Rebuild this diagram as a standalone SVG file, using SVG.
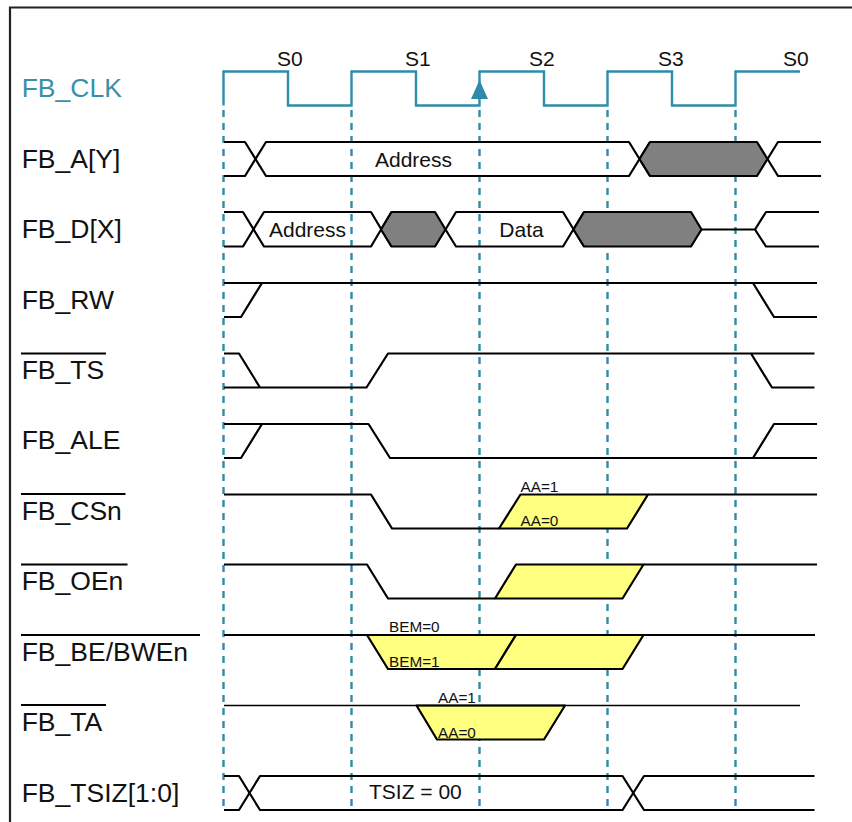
<svg xmlns="http://www.w3.org/2000/svg" width="852" height="822" viewBox="0 0 852 822">
<style>
text{font-family:"Liberation Sans",Arial,sans-serif;fill:#111}
.lb{font-size:26.500px}
.st{font-size:21px}
.v{font-size:21px}
.sm{font-size:15.300px}
.w{fill:none;stroke:#000;stroke-width:2.200;stroke-linejoin:round}
.thin{stroke-width:1.700}
.g{fill:#808080;stroke:#000;stroke-width:2.200;stroke-linejoin:round}
.y{fill:#ffff80;stroke:#000;stroke-width:2.200;stroke-linejoin:round}
.ov{stroke:#000;stroke-width:2.200}
.guide{stroke:#2e8cab;stroke-width:2.400;stroke-dasharray:7 6;fill:none}
</style>
<rect width="852" height="822" fill="#fff"/>
<path d="M10 822V7.500H852" fill="none" stroke="#222" stroke-width="2.200"/>
<g id="connectors">
<path class="guide" d="M223.500 110V810"/>
<path class="guide" d="M351.500 110V810"/>
<path class="guide" d="M479.500 110V810"/>
<path class="guide" d="M607.500 110V810"/>
<path class="guide" d="M735.500 110V810"/>
</g>
<g id="fb-clk">
<text class="lb" x="21.700" y="97" style="fill:#3a8fa8">FB_CLK</text>
<path d="M223.500 105.500V71.500H288V105.500H351.500V71.500H416V105.500H479.500V71.500H544V105.500H607.500V71.500H672V105.500H735.500V71.500H800" fill="none" stroke="#2e8cab" stroke-width="2.400"/>
<path d="M479.500 80L488 99H471Z" fill="#2e8cab"/>
<text class="st" x="277" y="66">S0</text>
<text class="st" x="405" y="66">S1</text>
<text class="st" x="529" y="66">S2</text>
<text class="st" x="658" y="66">S3</text>
<text class="st" x="783" y="66">S0</text>
</g>
<g id="fb-a">
<text class="lb" x="21.700" y="168">FB_A[Y]</text>
<path class="w" d="M224 142H245L266 176H629L650 142"/>
<path class="w" d="M224 176H245L266 142H629L650 176"/>
<path class="g" d="M639.500 159L650 142H757L767.500 159L757 176H650Z"/>
<path class="w" d="M767.500 159L778 142H821M767.500 159L778 176H821"/>
<text class="v" x="375" y="167">Address</text>
</g>
<g id="fb-d">
<text class="lb" x="21.700" y="238">FB_D[X]</text>
<path class="w" d="M224 212H243L264 246.500H371L391.500 212"/>
<path class="w" d="M224 246.500H243L264 212H371L391.500 246.500"/>
<path class="g" d="M381 229.500L391.500 212H435L445.500 229.500L435 246.500H391.500Z"/>
<path class="w" d="M445.500 229.500L456 212H563L584 246.500M445.500 229.500L456 246.500H563L584 212"/>
<path class="g" d="M573.500 229.500L584 212H691L701.500 229.500L691 246.500H584Z"/>
<path class="w" d="M701.500 229.500H755L766 212H819M755 229.500L766 246.500H819"/>
<text class="v" x="269" y="237">Address</text>
<text class="v" x="499.300" y="237">Data</text>
</g>
<g id="fb-rw">
<text class="lb" x="21.700" y="309">FB_RW</text>
<path class="w" d="M224 283H817M224 317H241L262 283M753 283L774 317H817"/>
</g>
<g id="fb-ts">
<text class="lb" x="21.700" y="379">FB_TS</text>
<path class="ov" d="M21 353.500H106"/>
<path class="w" d="M224 353.500H239L260 387.500M224 387.500H366.500L388 353.500H814.500M751 353.500L772 387.500H814.500"/>
</g>
<g id="fb-ale">
<text class="lb" x="21.700" y="449">FB_ALE</text>
<path class="w" d="M224 424H368.500L390 458H753L774 424H817M224 458H241L262 424M753 458H817"/>
</g>
<g id="fb-csn">
<text class="lb" x="21.700" y="520">FB_CSn</text>
<path class="ov" d="M21 494H125.500"/>
<path class="w" d="M224 494.500H371L392 528.500H499"/>
<path class="y" d="M499 528.500L520.500 494.500H648L627 528.500Z"/>
<path class="w" d="M648 494.500H817"/>
<text class="sm" x="520.500" y="491.500">AA=1</text>
<text class="sm" x="520.500" y="526">AA=0</text>
</g>
<g id="fb-oen">
<text class="lb" x="21.700" y="590">FB_OEn</text>
<path class="ov" d="M21 564.500H127.500"/>
<path class="w" d="M224 564.500H367L388 598.500H495"/>
<path class="y" d="M495 598.500L516 564.500H643.500L622.500 598.500Z"/>
<path class="w" d="M643.500 564.500H817"/>
</g>
<g id="fb-be">
<text class="lb" x="21.700" y="661">FB_BE/BWEn</text>
<path class="ov" d="M21 635H200"/>
<path class="y" d="M367 635L388 669H495L516 635Z"/>
<path class="y" d="M516 635H643.500L622.500 669H495Z"/>
<path class="w" d="M224 635H367M643.500 635H815"/>
<text class="sm" x="389" y="631.500">BEM=0</text>
<text class="sm" x="389" y="666.500">BEM=1</text>
</g>
<g id="fb-ta">
<text class="lb" x="21.700" y="731">FB_TA</text>
<path class="ov" d="M21 705H106"/>
<path class="y" d="M416.500 705.500L437 739.500H544L565 705.500Z"/>
<path class="w thin" d="M224 705.500H800"/>
<text class="sm" x="438" y="702.500">AA=1</text>
<text class="sm" x="438" y="737.500">AA=0</text>
</g>
<g id="fb-tsiz">
<text class="lb" x="21.700" y="802">FB_TSIZ[1:0]</text>
<path class="w" d="M224 776H239L260 810H622.500L644 776H814.500"/>
<path class="w" d="M224 810H239L260 776H622.500L644 810H814.500"/>
<text class="v" x="369" y="799">TSIZ = 00</text>
</g>
</svg>
